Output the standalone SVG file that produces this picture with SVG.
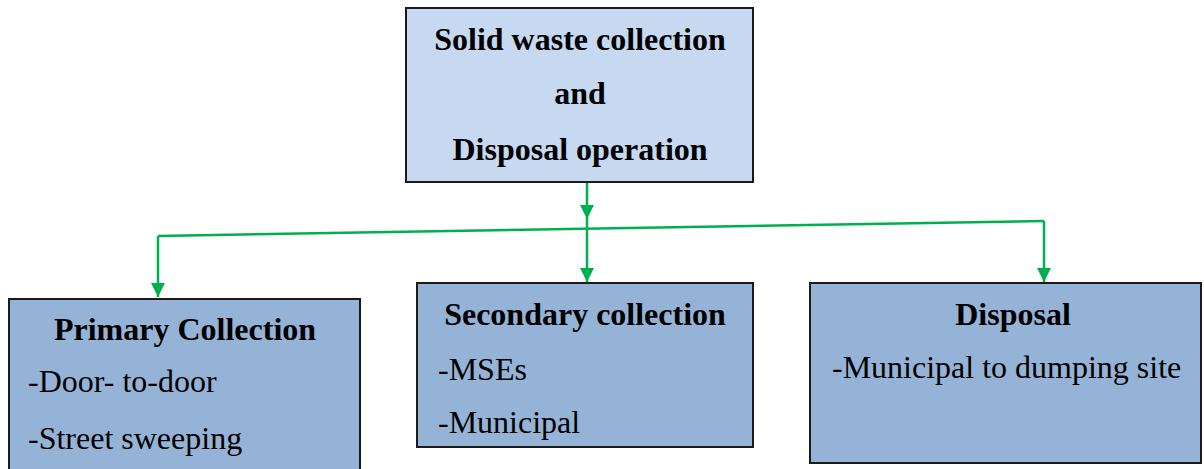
<svg xmlns="http://www.w3.org/2000/svg" width="1204" height="469" viewBox="0 0 1204 469">
<defs>
<style>
.top{fill:#c6d9f1;stroke:#1a1a1a;stroke-width:2}
.box{fill:#95b3d7;stroke:#1a1a1a;stroke-width:2}
.h{font-family:"Liberation Serif","Times New Roman",serif;font-weight:bold;font-size:32px;fill:#000}
.t{font-family:"Liberation Serif","Times New Roman",serif;font-size:32px;fill:#000}
.c{fill:none;stroke:#00b050;stroke-width:2.5}
</style>
<marker id="ah" markerWidth="14" markerHeight="14" viewBox="0 0 14 14" refX="14" refY="7" orient="auto" markerUnits="userSpaceOnUse">
<path d="M0,0 L14,7 L0,14 Z" fill="#00b050"/>
</marker>
</defs>
<g id="connectors">
<line class="c" x1="587" y1="182" x2="587" y2="219" marker-end="url(#ah)"/>
<polyline class="c" points="158,236 1044,221"/>
<line class="c" x1="158" y1="236" x2="158" y2="297" marker-end="url(#ah)"/>
<line class="c" x1="1044" y1="221" x2="1044" y2="282" marker-end="url(#ah)"/>
<line class="c" x1="587" y1="219" x2="587" y2="282" marker-end="url(#ah)"/>
</g>
<g id="root">
<rect class="top" x="406" y="8" width="347" height="174"/>
<text class="h" x="580" y="50" text-anchor="middle">Solid waste collection</text>
<text class="h" x="580" y="104" text-anchor="middle">and</text>
<text class="h" x="580" y="160" text-anchor="middle">Disposal operation</text>
</g>
<g id="primary">
<rect class="box" x="9" y="299" width="351" height="180"/>
<text class="h" x="185" y="340" text-anchor="middle">Primary Collection</text>
<text class="t" x="28" y="392">-Door- to-door</text>
<text class="t" x="28" y="449">-Street sweeping</text>
</g>
<g id="secondary">
<rect class="box" x="417" y="283" width="336" height="164"/>
<text class="h" x="585" y="325" text-anchor="middle">Secondary collection</text>
<text class="t" x="438" y="380">-MSEs</text>
<text class="t" x="438" y="433">-Municipal</text>
</g>
<g id="disposal">
<rect class="box" x="810" y="283" width="391" height="180"/>
<text class="h" x="1013" y="325" text-anchor="middle">Disposal</text>
<text class="t" x="832" y="378">-Municipal to dumping site</text>
</g>
</svg>
